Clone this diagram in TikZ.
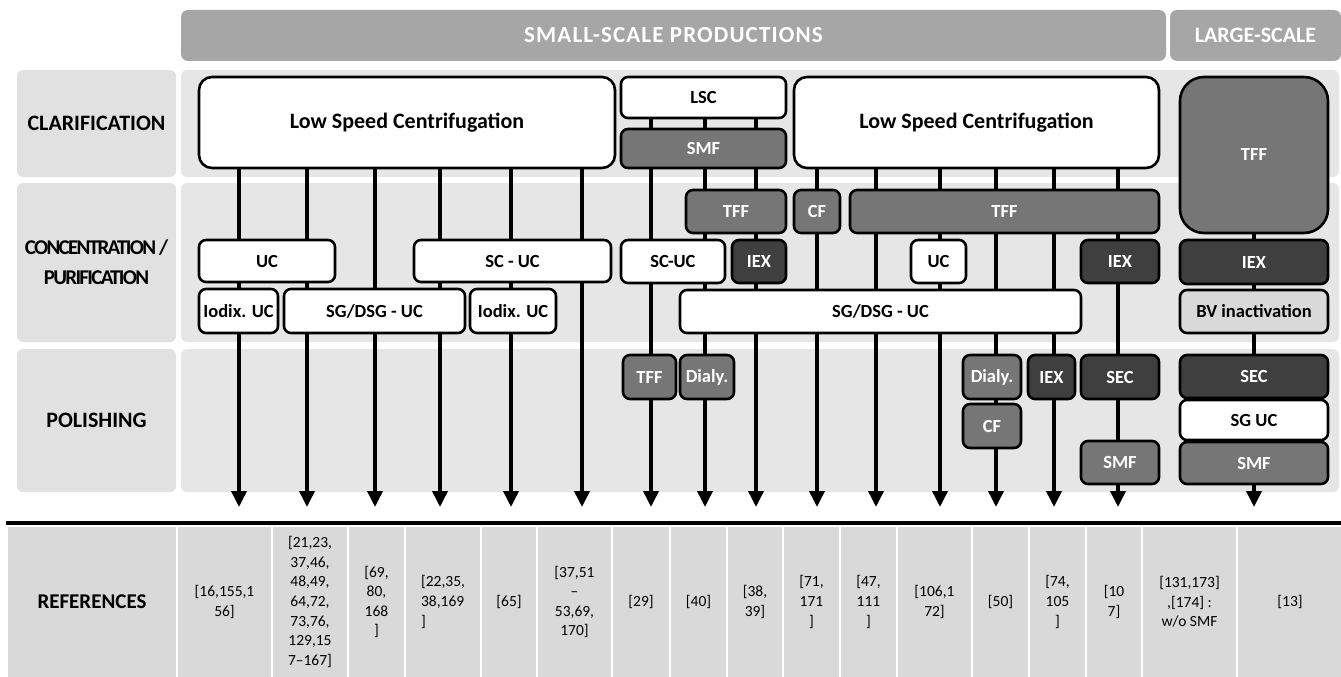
\documentclass[tikz,border=0pt]{standalone}
\usepackage{fontspec}
\setmainfont{Carlito}
\usetikzlibrary{arrows.meta}
\definecolor{hdr}{HTML}{A6A6A6}
\definecolor{band}{HTML}{E6E6E6}
\definecolor{lband}{HTML}{E1E1E1}
\definecolor{midg}{HTML}{767676}
\definecolor{darkg}{HTML}{3F3F3F}
\definecolor{liteg}{HTML}{D9D9D9}
\definecolor{tabg}{HTML}{D9D9D9}
\pgfdeclarelayer{bands}
\pgfdeclarelayer{lines}
\pgfsetlayers{bands,lines,main}
\newcommand\mybox[7]{\node[#2,minimum width={(#5-#3)*1pt},minimum height={(#6-#4)*1pt}] (#1) at ({(#3+#5)/2},{(#4+#6)/2}) {#7};}
\tikzset{
  box/.style={draw=black,line width=2.6pt,rounded corners=7pt,inner sep=0pt,outer sep=0pt,
    font=\bfseries\fontsize{18.5}{21}\selectfont},
  wbox/.style={box,fill=white},
  mbox/.style={box,fill=midg,text=white},
  dbox/.style={box,fill=darkg,text=white},
  lbox/.style={box,fill=liteg},
  bigtxt/.style={font=\bfseries\fontsize{22}{25}\selectfont,rounded corners=13pt},
  bandbox/.style={fill=band,draw=none,rounded corners=6pt,inner sep=0pt,outer sep=0pt},
  labbox/.style={fill=lband,draw=none,rounded corners=6pt,inner sep=0pt,outer sep=0pt,
    font=\bfseries\fontsize{22}{30}\selectfont,align=center},
  hdrbox/.style={fill=hdr,draw=none,rounded corners=7pt,inner sep=0pt,outer sep=0pt,text=white,
    font=\bfseries\fontsize{23}{26}\selectfont},
  cell/.style={fill=tabg,draw=white,line width=2pt,inner sep=0pt,outer sep=0pt,align=center,
    font=\fontsize{15.5}{19.6}\selectfont},
  flow/.style={line width=3.6pt,-{Triangle[width=15pt,length=16pt]}},
}
\begin{document}
\begin{tikzpicture}[x=1pt,y=-1pt]
\useasboundingbox (0,0) rectangle (1341,677);
% header
\mybox{hsmall}{hdrbox}{181}{10}{1166}{61}{\addfontfeatures{LetterSpace=5}SMALL-SCALE PRODUCTIONS}
\mybox{hlarge}{hdrbox,font=\bfseries\fontsize{22}{26}\selectfont}{1170}{10}{1341}{61}{LARGE-SCALE}
% row bands
\begin{pgfonlayer}{bands}
\mybox{lab1}{labbox}{17}{70}{176}{177}{CLARIFICATION}
\mybox{lab2}{labbox,font=\bfseries\fontsize{21}{30}\selectfont\addfontfeatures{LetterSpace=-8}}{17}{183}{176}{342}{CONCENTRATION /\\PURIFICATION}
\mybox{lab3}{labbox}{17}{349}{176}{492}{POLISHING}
\mybox{row1}{bandbox}{181}{70}{1339}{177}{}
\mybox{row2}{bandbox}{181}{183}{1339}{342}{}
\mybox{row3}{bandbox}{181}{349}{1339}{492}{}
\end{pgfonlayer}
% clarification
\mybox{lscA}{wbox,bigtxt}{199}{77}{615}{168}{Low Speed Centrifugation}
\mybox{lscS}{wbox}{621}{77}{786}{118}{LSC}
\mybox{smfC}{mbox}{621}{129}{786}{168}{SMF}
\mybox{lscB}{wbox,bigtxt}{794}{77}{1159}{168}{Low Speed Centrifugation}
\mybox{tffL}{mbox,rounded corners=24pt}{1180}{77}{1328}{233}{TFF}
% concentration / purification
\mybox{tffS}{mbox}{686}{190}{786}{233}{TFF}
\mybox{cfA}{mbox}{794}{190}{840}{233}{CF}
\mybox{tffB}{mbox}{850}{190}{1159}{233}{TFF}
\mybox{ucA}{wbox}{199}{240}{335}{282}{UC}
\mybox{scucA}{wbox}{414}{240}{611}{282}{SC - UC}
\mybox{scucB}{wbox}{621}{240}{725}{283}{SC-UC}
\mybox{iexA}{dbox}{732}{240}{786}{283}{IEX}
\mybox{ucB}{wbox}{911}{240}{966}{283}{UC}
\mybox{iexB}{dbox}{1081}{240}{1159}{283}{IEX}
\mybox{iexL}{dbox}{1180}{240}{1328}{284}{IEX}
\mybox{iodA}{wbox}{199}{289}{278}{333}{Iodix. UC}
\mybox{sgA}{wbox}{284}{289}{465}{333}{SG/DSG - UC}
\mybox{iodB}{wbox}{470}{289}{556}{333}{Iodix. UC}
\mybox{sgB}{wbox}{680}{290}{1081}{333}{SG/DSG - UC}
\mybox{bvL}{lbox}{1180}{290}{1328}{333}{BV inactivation}
% polishing
\mybox{tffP}{mbox}{623}{355}{676}{399}{TFF}
\mybox{dialA}{mbox}{680}{355}{734}{399}{Dialy.}
\mybox{dialB}{mbox}{963}{355}{1021}{399}{Dialy.}
\mybox{cfB}{mbox}{963}{404}{1021}{448}{CF}
\mybox{iexP}{dbox}{1028}{355}{1075}{399}{IEX}
\mybox{secA}{dbox}{1081}{355}{1159}{399}{SEC}
\mybox{smfA}{mbox}{1081}{441}{1159}{484}{SMF}
\mybox{secL}{dbox}{1180}{355}{1328}{398}{SEC}
\mybox{sgL}{wbox}{1180}{400}{1328}{440}{SG UC}
\mybox{smfL}{mbox}{1180}{442}{1328}{484}{SMF}
% arrow ends
\foreach \n/\x in {1/239,2/307,3/375,4/440,5/511,6/582,7/651,8/705,9/756,10/817,11/876,12/940,13/996,14/1054,15/1118,16/1254}
  \coordinate (e\n) at (\x,507);
\begin{pgfonlayer}{lines}
\foreach \n in {1,...,6} \draw[flow] (lscA.center -| e\n) -- (e\n);
\foreach \n in {7,8,9} \draw[flow] (lscS.center -| e\n) -- (e\n);
\foreach \n in {10,...,15} \draw[flow] (lscB.center -| e\n) -- (e\n);
\draw[flow] (tffL.center -| e16) -- (e16);
\end{pgfonlayer}
% references
\draw[line width=4pt] (6,523) coordinate (rl) -- (1341,523) coordinate (rr);
\mybox{c0}{cell,font=\bfseries\fontsize{21}{24}\selectfont}{7}{526}{177}{678}{REFERENCES}
\mybox{c1}{cell}{177}{526}{272}{678}{[16,155,1\\56]}
\mybox{c2}{cell}{272}{526}{348}{678}{[21,23,\\37,46,\\48,49,\\64,72,\\73,76,\\129,15\\7–167]}
\mybox{c3}{cell}{348}{526}{405}{678}{[69,\\80,\\168\\]}
\mybox{c4}{cell,align=left}{405}{526}{481}{678}{[22,35,\\38,169\\]}
\mybox{c5}{cell}{481}{526}{537}{678}{[65]}
\mybox{c6}{cell}{537}{526}{612}{678}{[37,51\\–\\53,69,\\170]}
\mybox{c7}{cell}{612}{526}{670}{678}{[29]}
\mybox{c8}{cell}{670}{526}{727}{678}{[40]}
\mybox{c9}{cell}{727}{526}{783}{678}{[38,\\39]}
\mybox{c10}{cell}{783}{526}{840}{678}{[71,\\171\\]}
\mybox{c11}{cell}{840}{526}{897}{678}{[47,\\111\\]}
\mybox{c12}{cell}{897}{526}{972}{678}{[106,1\\72]}
\mybox{c13}{cell}{972}{526}{1029}{678}{[50]}
\mybox{c14}{cell}{1029}{526}{1086}{678}{[74,\\105\\]}
\mybox{c15}{cell}{1086}{526}{1142}{678}{[10\\7]}
\mybox{c16}{cell}{1142}{526}{1237}{678}{[131,173]\\,[174] :\\w/o SMF}
\mybox{c17}{cell}{1237}{526}{1343}{678}{[13]}
\end{tikzpicture}
\end{document}
